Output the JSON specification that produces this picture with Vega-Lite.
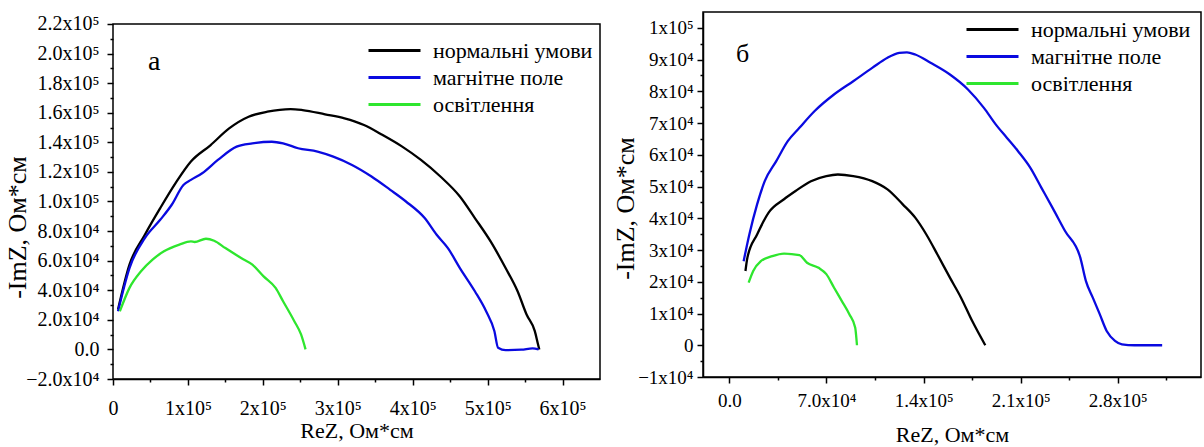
{
  "$schema": "https://vega.github.io/schema/vega-lite/v6.json",
  "padding": {"left": 4, "top": 11, "right": 4, "bottom": 0},
  "background": "#ffffff",
  "spacing": 10,
  "datasets": {
    "a": [
      {"c": "нормальні умови", "i": 1, "x": 6700, "y": 27000},
      {"c": "нормальні умови", "i": 2, "x": 22000, "y": 57300},
      {"c": "нормальні умови", "i": 3, "x": 42500, "y": 77500},
      {"c": "нормальні умови", "i": 4, "x": 63000, "y": 95500},
      {"c": "нормальні умови", "i": 5, "x": 83500, "y": 112400},
      {"c": "нормальні умови", "i": 6, "x": 104000, "y": 127000},
      {"c": "нормальні умови", "i": 7, "x": 130000, "y": 138000},
      {"c": "нормальні умови", "i": 8, "x": 155000, "y": 149400},
      {"c": "нормальні умови", "i": 9, "x": 181000, "y": 157300},
      {"c": "нормальні умови", "i": 10, "x": 206000, "y": 160700},
      {"c": "нормальні умови", "i": 11, "x": 237000, "y": 162500},
      {"c": "нормальні умови", "i": 12, "x": 253000, "y": 161800},
      {"c": "нормальні умови", "i": 13, "x": 283000, "y": 158900},
      {"c": "нормальні умови", "i": 14, "x": 309000, "y": 156200},
      {"c": "нормальні умови", "i": 15, "x": 335000, "y": 151700},
      {"c": "нормальні умови", "i": 16, "x": 360000, "y": 144900},
      {"c": "нормальні умови", "i": 17, "x": 386000, "y": 137100},
      {"c": "нормальні умови", "i": 18, "x": 411000, "y": 128100},
      {"c": "нормальні умови", "i": 19, "x": 437000, "y": 116900},
      {"c": "нормальні умови", "i": 20, "x": 463000, "y": 103400},
      {"c": "нормальні умови", "i": 21, "x": 483000, "y": 88800},
      {"c": "нормальні умови", "i": 22, "x": 504000, "y": 73000},
      {"c": "нормальні умови", "i": 23, "x": 524000, "y": 55000},
      {"c": "нормальні умови", "i": 24, "x": 540000, "y": 39300},
      {"c": "нормальні умови", "i": 25, "x": 552000, "y": 23600},
      {"c": "нормальні умови", "i": 26, "x": 563000, "y": 12400},
      {"c": "нормальні умови", "i": 27, "x": 567500, "y": 3000},
      {"c": "нормальні умови", "i": 28, "x": 569000, "y": 0},
      {"c": "магнітне поле", "i": 1, "x": 6700, "y": 25800},
      {"c": "магнітне поле", "i": 2, "x": 22000, "y": 55000},
      {"c": "магнітне поле", "i": 3, "x": 42500, "y": 75300},
      {"c": "магнітне поле", "i": 4, "x": 63000, "y": 87600},
      {"c": "магнітне поле", "i": 5, "x": 78400, "y": 97800},
      {"c": "магнітне поле", "i": 6, "x": 94000, "y": 111200},
      {"c": "магнітне поле", "i": 7, "x": 104000, "y": 114600},
      {"c": "магнітне поле", "i": 8, "x": 119000, "y": 119100},
      {"c": "магнітне поле", "i": 9, "x": 140000, "y": 128100},
      {"c": "магнітне поле", "i": 10, "x": 165000, "y": 137100},
      {"c": "магнітне поле", "i": 11, "x": 186000, "y": 139300},
      {"c": "магнітне поле", "i": 12, "x": 212000, "y": 140400},
      {"c": "магнітне поле", "i": 13, "x": 227000, "y": 139300},
      {"c": "магнітне поле", "i": 14, "x": 247000, "y": 136000},
      {"c": "магнітне поле", "i": 15, "x": 273000, "y": 133700},
      {"c": "магнітне поле", "i": 16, "x": 294000, "y": 130300},
      {"c": "магнітне поле", "i": 17, "x": 319000, "y": 124700},
      {"c": "магнітне поле", "i": 18, "x": 345000, "y": 116900},
      {"c": "магнітне поле", "i": 19, "x": 370000, "y": 107900},
      {"c": "магнітне поле", "i": 20, "x": 391000, "y": 100000},
      {"c": "магнітне поле", "i": 21, "x": 416000, "y": 88800},
      {"c": "магнітне поле", "i": 22, "x": 432000, "y": 77500},
      {"c": "магнітне поле", "i": 23, "x": 447000, "y": 68500},
      {"c": "магнітне поле", "i": 24, "x": 463000, "y": 55000},
      {"c": "магнітне поле", "i": 25, "x": 483000, "y": 39300},
      {"c": "магнітне поле", "i": 26, "x": 498000, "y": 25800},
      {"c": "магнітне поле", "i": 27, "x": 509000, "y": 12400},
      {"c": "магнітне поле", "i": 28, "x": 514000, "y": 1100},
      {"c": "магнітне поле", "i": 29, "x": 524000, "y": -500},
      {"c": "магнітне поле", "i": 30, "x": 545000, "y": -200},
      {"c": "магнітне поле", "i": 31, "x": 560000, "y": 700},
      {"c": "магнітне поле", "i": 32, "x": 568000, "y": 0},
      {"c": "освітлення", "i": 1, "x": 9200, "y": 25800},
      {"c": "освітлення", "i": 2, "x": 22000, "y": 41600},
      {"c": "освітлення", "i": 3, "x": 37400, "y": 52800},
      {"c": "освітлення", "i": 4, "x": 52800, "y": 60700},
      {"c": "освітлення", "i": 5, "x": 68000, "y": 66300},
      {"c": "освітлення", "i": 6, "x": 88600, "y": 70800},
      {"c": "освітлення", "i": 7, "x": 104000, "y": 73000},
      {"c": "освітлення", "i": 8, "x": 109000, "y": 72600},
      {"c": "освітлення", "i": 9, "x": 124000, "y": 74800},
      {"c": "освітлення", "i": 10, "x": 135000, "y": 73500},
      {"c": "освітлення", "i": 11, "x": 150000, "y": 68500},
      {"c": "освітлення", "i": 12, "x": 171000, "y": 61800},
      {"c": "освітлення", "i": 13, "x": 186000, "y": 57300},
      {"c": "освітлення", "i": 14, "x": 201000, "y": 49400},
      {"c": "освітлення", "i": 15, "x": 217000, "y": 41600},
      {"c": "освітлення", "i": 16, "x": 227000, "y": 32600},
      {"c": "освітлення", "i": 17, "x": 242000, "y": 19100},
      {"c": "освітлення", "i": 18, "x": 251000, "y": 10100},
      {"c": "освітлення", "i": 19, "x": 257000, "y": 0}
    ],
    "b": [
      {"c": "нормальні умови", "i": 1, "x": 11600, "y": 23400},
      {"c": "нормальні умови", "i": 2, "x": 13000, "y": 27600},
      {"c": "нормальні умови", "i": 3, "x": 20000, "y": 34900},
      {"c": "нормальні умови", "i": 4, "x": 28300, "y": 41800},
      {"c": "нормальні умови", "i": 5, "x": 39400, "y": 46000},
      {"c": "нормальні умови", "i": 6, "x": 47700, "y": 48600},
      {"c": "нормальні умови", "i": 7, "x": 58800, "y": 51700},
      {"c": "нормальні умови", "i": 8, "x": 69900, "y": 53300},
      {"c": "нормальні умови", "i": 9, "x": 78200, "y": 53800},
      {"c": "нормальні умови", "i": 10, "x": 89300, "y": 53300},
      {"c": "нормальні умови", "i": 11, "x": 103000, "y": 51700},
      {"c": "нормальні умови", "i": 12, "x": 114000, "y": 49100},
      {"c": "нормальні умови", "i": 13, "x": 125000, "y": 44400},
      {"c": "нормальні умови", "i": 14, "x": 134000, "y": 40200},
      {"c": "нормальні умови", "i": 15, "x": 142000, "y": 34900},
      {"c": "нормальні умови", "i": 16, "x": 150000, "y": 28600},
      {"c": "нормальні умови", "i": 17, "x": 159000, "y": 21300},
      {"c": "нормальні умови", "i": 18, "x": 167000, "y": 15000},
      {"c": "нормальні умови", "i": 19, "x": 175000, "y": 7700},
      {"c": "нормальні умови", "i": 20, "x": 184500, "y": 0},
      {"c": "магнітне поле", "i": 1, "x": 10300, "y": 26500},
      {"c": "магнітне поле", "i": 2, "x": 14400, "y": 34900},
      {"c": "магнітне поле", "i": 3, "x": 20000, "y": 44400},
      {"c": "магнітне поле", "i": 4, "x": 25500, "y": 51700},
      {"c": "магнітне поле", "i": 5, "x": 33800, "y": 58000},
      {"c": "магнітне поле", "i": 6, "x": 42100, "y": 64300},
      {"c": "магнітне поле", "i": 7, "x": 50500, "y": 68500},
      {"c": "магнітне поле", "i": 8, "x": 61500, "y": 73800},
      {"c": "магнітне поле", "i": 9, "x": 75400, "y": 79000},
      {"c": "магнітне поле", "i": 10, "x": 89300, "y": 83200},
      {"c": "магнітне поле", "i": 11, "x": 103000, "y": 87400},
      {"c": "магнітне поле", "i": 12, "x": 114000, "y": 90600},
      {"c": "магнітне поле", "i": 13, "x": 122500, "y": 92100},
      {"c": "магнітне поле", "i": 14, "x": 128000, "y": 92300},
      {"c": "магнітне поле", "i": 15, "x": 134000, "y": 91600},
      {"c": "магнітне поле", "i": 16, "x": 145000, "y": 89000},
      {"c": "магнітне поле", "i": 17, "x": 159000, "y": 85300},
      {"c": "магнітне поле", "i": 18, "x": 172000, "y": 80600},
      {"c": "магнітне поле", "i": 19, "x": 183500, "y": 74800},
      {"c": "магнітне поле", "i": 20, "x": 192000, "y": 69600},
      {"c": "магнітне поле", "i": 21, "x": 200000, "y": 65400},
      {"c": "магнітне поле", "i": 22, "x": 208000, "y": 61200},
      {"c": "магнітне поле", "i": 23, "x": 217000, "y": 55900},
      {"c": "магнітне поле", "i": 24, "x": 225000, "y": 49600},
      {"c": "магнітне поле", "i": 25, "x": 233000, "y": 43300},
      {"c": "магнітне поле", "i": 26, "x": 242000, "y": 36000},
      {"c": "магнітне поле", "i": 27, "x": 253000, "y": 27600},
      {"c": "магнітне поле", "i": 28, "x": 257000, "y": 20300},
      {"c": "магнітне поле", "i": 29, "x": 262000, "y": 15000},
      {"c": "магнітне поле", "i": 30, "x": 267000, "y": 9800},
      {"c": "магнітне поле", "i": 31, "x": 272000, "y": 4500},
      {"c": "магнітне поле", "i": 32, "x": 278000, "y": 1400},
      {"c": "магнітне поле", "i": 33, "x": 283000, "y": 300},
      {"c": "магнітне поле", "i": 34, "x": 292000, "y": 0},
      {"c": "магнітне поле", "i": 35, "x": 312000, "y": 0},
      {"c": "освітлення", "i": 1, "x": 13900, "y": 19700},
      {"c": "освітлення", "i": 2, "x": 17200, "y": 23400},
      {"c": "освітлення", "i": 3, "x": 22700, "y": 26500},
      {"c": "освітлення", "i": 4, "x": 31000, "y": 28100},
      {"c": "освітлення", "i": 5, "x": 39400, "y": 28900},
      {"c": "освітлення", "i": 6, "x": 50500, "y": 28400},
      {"c": "освітлення", "i": 7, "x": 56000, "y": 26000},
      {"c": "освітлення", "i": 8, "x": 64300, "y": 24400},
      {"c": "освітлення", "i": 9, "x": 69900, "y": 22400},
      {"c": "освітлення", "i": 10, "x": 75400, "y": 18200},
      {"c": "освітлення", "i": 11, "x": 81000, "y": 14000},
      {"c": "освітлення", "i": 12, "x": 86500, "y": 9800},
      {"c": "освітлення", "i": 13, "x": 90700, "y": 5600},
      {"c": "освітлення", "i": 14, "x": 92000, "y": 0}
    ],
    "la": [{"t": "а", "x": 55000, "y": 194000}],
    "lb": [{"t": "б", "x": 9500, "y": 91700}],
    "fa": [{"x0": 0, "x1": 650000, "y0": -20000, "y1": 220000}]
  },
  "hconcat": [
    {
      "width": 487,
      "height": 367,
      "view": {"stroke": null},
      "layer": [
        {
          "mark": {"type": "rule", "color": "#888888", "strokeWidth": 1},
          "encoding": {
            "y": {"datum": 0, "type": "quantitative", "scale": {"domain": [-20000, 228100], "nice": false, "zero": false}, "axis": null}
          }
        },
        {
          "data": {"name": "fa"},
          "mark": {"type": "rect", "fill": null, "stroke": "#000000", "strokeWidth": 1.5},
          "encoding": {
            "x": {"field": "x0", "type": "quantitative", "axis": null},
            "x2": {"field": "x1"},
            "y": {"field": "y0", "type": "quantitative", "axis": null},
            "y2": {"field": "y1"}
          }
        },
        {
          "data": {"name": "a"},
          "mark": {"type": "line", "strokeWidth": 2.3, "interpolate": "monotone"},
          "encoding": {
            "x": {
              "field": "x", "type": "quantitative",
              "scale": {"domain": [0, 650000], "nice": false, "zero": false},
              "axis": {
                "orient": "bottom", "title": "ReZ, Ом*см",
                "values": [0, 100000, 200000, 300000, 400000, 500000, 600000],
                "labelExpr": "datum.value == 0 ? '0' : format(datum.value/100000, 'd') + 'x10⁵'",
                "tickSize": 6, "labelPadding": 13, "titlePadding": 2,
                "labelFontSize": 20, "titleFontSize": 22
              }
            },
            "y": {
              "field": "y", "type": "quantitative",
              "scale": {"domain": [-20000, 228100], "nice": false, "zero": false},
              "axis": {
                "orient": "left", "title": "-ImZ, Ом*см", "domain": false,
                "values": [-20000, 0, 20000, 40000, 60000, 80000, 100000, 120000, 140000, 160000, 180000, 200000, 220000],
                "labelExpr": "datum.value == 0 ? '0.0' : (abs(datum.value) >= 100000 ? format(datum.value/100000, '.1f') + 'x10⁵' : format(datum.value/10000, '.1f') + 'x10⁴')",
                "tickSize": 6, "labelPadding": 8, "titlePadding": -5, "titleY": 215,
                "labelFontSize": 20, "titleFontSize": 26
              }
            },
            "color": {
              "field": "c", "type": "nominal",
              "scale": {"domain": ["нормальні умови", "магнітне поле", "освітлення"], "range": ["#000000", "#0a0ae0", "#2ee62e"]},
              "legend": {"title": null, "orient": "none", "legendX": 270, "legendY": 27}
            },
            "order": {"field": "i", "type": "quantitative"}
          }
        },
        {
          "data": {"name": "a"},
          "mark": {"type": "point", "opacity": 0},
          "encoding": {
            "x": {"field": "x", "type": "quantitative", "axis": {"orient": "bottom", "title": null, "labels": false, "domain": false, "tickSize": 3, "values": [50000, 150000, 250000, 350000, 450000, 550000]}},
            "y": {"field": "y", "type": "quantitative", "axis": {"orient": "left", "title": null, "labels": false, "domain": false, "tickSize": 3, "values": [-10000, 10000, 30000, 50000, 70000, 90000, 110000, 130000, 150000, 170000, 190000, 210000]}}
          }
        },
        {
          "data": {"name": "la"},
          "mark": {"type": "text", "fontSize": 28, "font": "Liberation Serif", "align": "center", "baseline": "middle", "color": "#000"},
          "encoding": {
            "x": {"field": "x", "type": "quantitative", "axis": null},
            "y": {"field": "y", "type": "quantitative", "axis": null},
            "text": {"field": "t"}
          }
        }
      ],
      "resolve": {"axis": {"x": "independent", "y": "independent"}}
    },
    {
      "width": 498,
      "height": 365,
      "layer": [
        {
          "mark": {"type": "rule", "color": "#333333", "strokeWidth": 1},
          "encoding": {
            "y": {"datum": 0, "type": "quantitative", "scale": {"domain": [-10000, 105000], "nice": false, "zero": false}, "axis": null}
          }
        },
        {
          "data": {"name": "b"},
          "mark": {"type": "line", "strokeWidth": 2.3, "interpolate": "monotone"},
          "encoding": {
            "x": {
              "field": "x", "type": "quantitative",
              "scale": {"domain": [-19000, 340000], "nice": false, "zero": false},
              "axis": {
                "orient": "bottom", "title": "ReZ, Ом*см",
                "values": [0, 70000, 140000, 210000, 280000],
                "labelExpr": "datum.value == 0 ? '0.0' : (datum.value < 100000 ? format(datum.value/10000, '.1f') + 'x10⁴' : format(datum.value/100000, '.1f') + 'x10⁵')",
                "tickSize": 6, "labelPadding": 8, "titlePadding": 14,
                "labelFontSize": 19, "titleFontSize": 22
              }
            },
            "y": {
              "field": "y", "type": "quantitative",
              "scale": {"domain": [-10000, 105000], "nice": false, "zero": false},
              "axis": {
                "orient": "left", "title": "-ImZ, Ом*см",
                "values": [-10000, 0, 10000, 20000, 30000, 40000, 50000, 60000, 70000, 80000, 90000, 100000],
                "labelExpr": "datum.value == 0 ? '0' : (abs(datum.value) >= 100000 ? format(datum.value/100000, 'd') + 'x10⁵' : format(datum.value/10000, 'd') + 'x10⁴')",
                "tickSize": 6, "labelPadding": 4, "titlePadding": -1, "titleY": 196,
                "labelFontSize": 19, "titleFontSize": 26
              }
            },
            "color": {
              "field": "c", "type": "nominal",
              "scale": {"domain": ["нормальні умови", "магнітне поле", "освітлення"], "range": ["#000000", "#0a0ae0", "#2ee62e"]},
              "legend": {"title": null, "orient": "none", "legendX": 278, "legendY": 6}
            },
            "order": {"field": "i", "type": "quantitative"}
          }
        },
        {
          "data": {"name": "b"},
          "mark": {"type": "point", "opacity": 0},
          "encoding": {
            "x": {"field": "x", "type": "quantitative", "axis": {"orient": "bottom", "title": null, "labels": false, "domain": false, "tickSize": 3, "values": [35000, 105000, 175000, 245000, 315000]}},
            "y": {"field": "y", "type": "quantitative", "axis": {"orient": "left", "title": null, "labels": false, "domain": false, "tickSize": 3, "values": [-5000, 5000, 15000, 25000, 35000, 45000, 55000, 65000, 75000, 85000, 95000]}}
          }
        },
        {
          "data": {"name": "lb"},
          "mark": {"type": "text", "fontSize": 26, "font": "Liberation Serif", "align": "center", "baseline": "middle", "color": "#000"},
          "encoding": {
            "x": {"field": "x", "type": "quantitative", "axis": null},
            "y": {"field": "y", "type": "quantitative", "axis": null},
            "text": {"field": "t"}
          }
        }
      ],
      "resolve": {"axis": {"x": "independent", "y": "independent"}}
    }
  ],
  "resolve": {"legend": {"color": "independent"}},
  "config": {
    "font": "Liberation Serif",
    "view": {"stroke": "#000000", "strokeWidth": 1.5},
    "axis": {
      "labelFont": "Liberation Serif", "titleFont": "Liberation Serif",
      "labelColor": "#000", "titleColor": "#000", "titleFontWeight": "normal",
      "domainColor": "#000", "tickColor": "#000", "domainWidth": 1.5, "tickWidth": 1.5,
      "grid": false, "labelFlush": false, "labelOverlap": false
    },
    "legend": {
      "labelFont": "Liberation Serif", "labelFontSize": 22, "labelColor": "#000",
      "symbolType": "M-2.6,0H2.6", "symbolSize": 400, "symbolStrokeWidth": 3,
      "labelOffset": 27, "rowPadding": 4, "padding": 0
    },
    "title": {"font": "Liberation Serif"}
  }
}
